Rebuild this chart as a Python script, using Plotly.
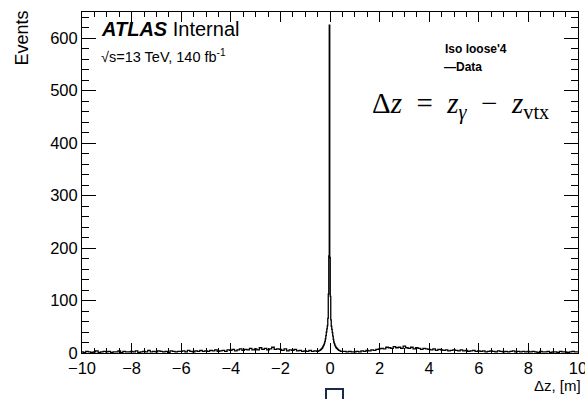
import plotly.graph_objects as go

# Event counts.
# Outer regions use 0.1 m bins, the core around zero uses 0.02 m bins.
left_start, left_step = -10.0, 0.1
left_events = [
    # -10.0 .. -9.1
    2, 1, 3, 2, 1, 2, 4, 1, 2, 3,
    # -9.0 .. -8.1
    2, 3, 1, 2, 2, 4, 1, 3, 2, 2,
    # -8.0 .. -7.1
    3, 2, 4, 1, 2, 3, 2, 5, 2, 3,
    # -7.0 .. -6.1
    2, 4, 3, 2, 3, 1, 4, 3, 2, 3,
    # -6.0 .. -5.1
    3, 4, 2, 5, 3, 2, 4, 3, 5, 3,
    # -5.0 .. -4.1
    4, 3, 5, 4, 6, 3, 4, 5, 3, 6,
    # -4.0 .. -3.1
    5, 7, 4, 6, 8, 5, 7, 6, 9, 6,
    # -3.0 .. -2.1
    8, 6, 10, 7, 9, 6, 8, 11, 7, 8,
    # -2.0 .. -1.1
    7, 5, 8, 4, 6, 5, 7, 4, 5, 3,
    # -1.0 .. -0.6
    4, 3, 5, 3, 4,
]
core_start, core_step = -0.5, 0.02
core_events = [
    # -0.50 .. -0.02
    3, 3, 4, 4, 5, 5, 6, 7, 8, 9, 10, 12, 14, 16, 19, 22, 27, 33, 40, 46, 52, 66, 112, 185,
    # 0.00
    625,
    # 0.02 .. 0.50
    182, 108, 63, 51, 45, 39, 32, 26, 21, 18, 15, 13, 11, 10, 9, 8, 7, 6, 5, 5, 4, 4, 3, 3, 3,
]
right_start, right_step = 0.6, 0.1
right_events = [
    # 0.6 .. 1.0
    3, 2, 3, 2, 2,
    # 1.1 .. 2.0
    3, 2, 4, 3, 5, 4, 6, 5, 7, 8,
    # 2.1 .. 3.0
    9, 8, 11, 10, 9, 12, 10, 11, 9, 13,
    # 3.1 .. 4.0
    10, 9, 11, 8, 10, 9, 7, 9, 8, 7,
    # 4.1 .. 5.0
    6, 8, 5, 7, 6, 5, 6, 4, 5, 6,
    # 5.1 .. 6.0
    5, 4, 6, 4, 5, 3, 4, 5, 3, 4,
    # 6.1 .. 7.0
    3, 4, 2, 3, 4, 3, 2, 4, 3, 2,
    # 7.1 .. 8.0
    3, 2, 3, 4, 2, 3, 2, 3, 2, 3,
    # 8.1 .. 9.0
    2, 3, 2, 1, 3, 2, 2, 3, 1, 2,
    # 9.1 .. 10.0
    2, 1, 3, 2, 2, 1, 2, 3, 2, 2,
]

def centres(start, step, n):
    return [round(start + i * step, 3) for i in range(n)]

dz = (centres(left_start, left_step, len(left_events))
      + centres(core_start, core_step, len(core_events))
      + centres(right_start, right_step, len(right_events)))
events = left_events + core_events + right_events

x_ticks = [-10, -8, -6, -4, -2, 0, 2, 4, 6, 8, 10]
y_ticks = [0, 100, 200, 300, 400, 500, 600]

W, H = 585, 399
L, R, T, B = 82, 7, 12, 46
pw, ph = W - L - R, H - T - B

def px(xpix):
    return (xpix - L) / pw

def py(ypix):
    return (H - B - ypix) / ph

FONT = "Liberation Sans, Arial, sans-serif"

fig = go.Figure()
fig.add_trace(go.Scatter(
    x=dz, y=events, mode="lines", line=dict(color="black", width=1.3, shape="hvh"),
    showlegend=False, hoverinfo="skip",
))

axis_common = dict(
    showline=True, linecolor="black", linewidth=1, mirror="ticks",
    ticks="inside", tickcolor="black", tickwidth=1, automargin=False,
    showgrid=False, zeroline=False, ticklabeloverflow="allow",
    tickfont=dict(family=FONT, size=16.5, color="black"),
)
fig.update_xaxes(
    range=[-10, 10], tickvals=x_ticks, ticklen=10,
    minor=dict(dtick=0.5, ticklen=5, ticks="inside", tickcolor="black", showgrid=False),
    **axis_common,
)
fig.update_yaxes(
    range=[0, 650], tickvals=y_ticks, ticklen=14,
    minor=dict(dtick=20, ticklen=7, ticks="inside", tickcolor="black", showgrid=False),
    **axis_common,
)

ann = []
ann.append(dict(text="Events", textangle=-90, x=px(21), y=py(9), xanchor="center",
                yanchor="top", font=dict(family=FONT, size=18, color="black")))
ann.append(dict(text="Δz, [m]", x=px(583), y=py(386), xanchor="right", yanchor="middle",
                font=dict(family=FONT, size=15, color="black")))
ann.append(dict(text="<b><i>ATLAS</i></b> Internal", x=px(99), y=py(29), xanchor="left",
                yanchor="middle", font=dict(family=FONT, size=20, color="black")))
ann.append(dict(text="√s=13 TeV, 140 fb<sup>-1</sup>", x=px(99), y=py(56), xanchor="left",
                yanchor="middle", font=dict(family=FONT, size=14.5, color="black")))
ann.append(dict(text="<b>Iso loose'4</b>", x=px(443), y=py(49), xanchor="left",
                yanchor="middle", font=dict(family=FONT, size=12, color="black")))
ann.append(dict(text="<b>—Data</b>", x=px(442), y=py(67), xanchor="left",
                yanchor="middle", font=dict(family=FONT, size=12, color="black")))
ann.append(dict(text="Δ<i>z</i>\u2002=\u2002<i>z<sub>γ</sub></i>\u2002−\u2002<i>z</i><sub>vtx</sub>",
                x=px(370), y=py(106), xanchor="left", yanchor="middle",
                font=dict(family="Liberation Serif, Times New Roman, serif", size=29, color="black")))
for a in ann:
    a.update(xref="paper", yref="paper", showarrow=False)

fig.update_layout(
    width=W, height=H, margin=dict(l=L, r=R, t=T, b=B, autoexpand=False),
    paper_bgcolor="white", plot_bgcolor="white",
    annotations=ann,
    shapes=[dict(type="rect", xref="paper", yref="paper", x0=px(326), x1=px(343),
                 y0=py(405), y1=py(389), line=dict(color="#1a2a4a", width=2))],
)

fig.write_html(
    "out.html",
    config={"displayModeBar": False},
    post_script="document.body.style.margin='0';document.body.style.overflow='hidden';",
)
